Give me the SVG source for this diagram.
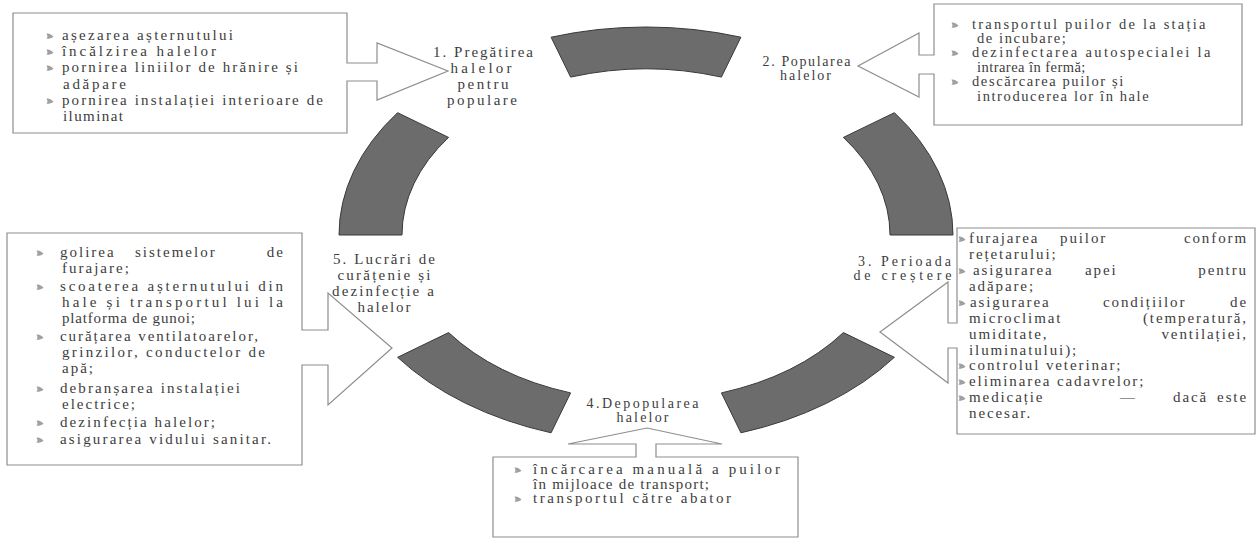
<svg xmlns="http://www.w3.org/2000/svg" xmlns:xlink="http://www.w3.org/1999/xlink" width="1259" height="545" viewBox="0 0 1259 545">
<style>
.box{fill:#fff;stroke:#8e8e8e;stroke-width:1.2}
.seg{fill:#6c6c6c;stroke:#3a3a3a;stroke-width:1}
.t{font-family:"Liberation Serif","DejaVu Serif","Times New Roman",serif;fill:#3d3d3d}
.s15{font-size:15px;letter-spacing:2px}
.s14{font-size:14.5px;letter-spacing:1.6px}
.s3{font-size:15px;letter-spacing:1.9px}
.s13{font-size:14px;letter-spacing:1px}
.m{text-anchor:middle}
.e{text-anchor:end}
.bul{fill:#a0a0a0}
</style>
<defs>
<path id="b" class="bul" d="M-3.5,-2.5 C-0.5,-2.8 2,-1.2 3.5,0.8 C1.2,2.6 -1.2,3 -3.6,2.8 C-2.2,1.4 -2.2,0 -3.5,-2.5 Z"/>
</defs>
<rect width="1259" height="545" fill="#fff"/>

<g id="connectors">
<path class="seg" d="M953,235 A307,208 0 0 0 894.4,112.7 L843.4,137.4 A244,166 0 0 1 890,235 Z"/>
<path class="seg" d="M740.9,37.2 A307,208 0 0 0 551.1,37.2 L570.6,77.1 A244,166 0 0 1 721.4,77.1 Z"/>
<path class="seg" d="M397.6,112.7 A307,208 0 0 0 339,235 L402,235 A244,166 0 0 1 448.6,137.4 Z"/>
<path class="seg" d="M397.6,357.3 A307,208 0 0 0 551.1,432.8 L570.6,392.9 A244,166 0 0 1 448.6,332.6 Z"/>
<path class="seg" d="M740.9,432.8 A307,208 0 0 0 894.4,357.3 L843.4,332.6 A244,166 0 0 1 721.4,392.9 Z"/>
</g>

<g id="step1">
<path class="box" d="M13,13 H347 V63 H377 V43 L448,71 L377,100 V81 H347 V133 H13 Z"/>
<g class="t s15">
<use xlink:href="#b" x="50" y="36"/><text x="62" y="40" textLength="173">așezarea așternutului</text>
<use xlink:href="#b" x="50" y="52"/><text x="62" y="56" textLength="156">încălzirea halelor</text>
<use xlink:href="#b" x="50" y="68"/><text x="62" y="72" textLength="238">pornirea liniilor de hrănire și</text>
<text x="63" y="89" textLength="65">adăpare</text>
<use xlink:href="#b" x="50" y="101"/><text x="62" y="105" textLength="263">pornirea instalației interioare de</text>
<text x="63" y="121" textLength="62">iluminat</text>
</g>
<g class="t s15 m">
<text x="484" y="57" textLength="102">1. Pregătirea</text>
<text x="482" y="73" textLength="63">halelor</text>
<text x="484" y="89" textLength="53">pentru</text>
<text x="483" y="105" textLength="72">populare</text>
</g>
</g>

<g id="step2">
<path class="box" d="M934,4 H1242 V125 H934 V74 H919 V97 L858,66 L919,33 V55 H934 Z"/>
<g class="t s14">
<use xlink:href="#b" x="955" y="25"/><text x="972" y="29" textLength="235">transportul puilor de la stația</text>
<text x="977" y="43">de incubare;</text>
<use xlink:href="#b" x="955" y="53"/><text x="972" y="57" textLength="240">dezinfectarea autospecialei la</text>
<text x="977" y="72" textLength="110">intrarea în fermă;</text>
<use xlink:href="#b" x="955" y="82"/><text x="972" y="86">descărcarea puilor și</text>
<text x="977" y="101">introducerea lor în hale</text>
</g>
<g class="t s13 m">
<text x="807" y="66" textLength="89">2. Popularea</text>
<text x="806" y="80" textLength="52">halelor</text>
</g>
</g>

<g id="step3">
<path class="box" d="M957,228 H1255 V434 H957 V348 H948 V383 L880,332 L948,282 V323 H957 Z"/>
<g class="t s3">
<use xlink:href="#b" x="962" y="239"/><text x="969" y="243">furajarea</text><text x="1060" y="243">puilor</text><text class="e" x="1248" y="243">conform</text>
<text x="969" y="259">rețetarului;</text>
<use xlink:href="#b" x="962" y="271"/><text x="973" y="275">asigurarea</text><text x="1085" y="275">apei</text><text class="e" x="1248" y="275">pentru</text>
<text x="969" y="291">adăpare;</text>
<use xlink:href="#b" x="962" y="303"/><text x="970" y="307">asigurarea</text><text x="1103" y="307">condițiilor</text><text class="e" x="1248" y="307">de</text>
<text x="969" y="323">microclimat</text><text class="e" x="1248" y="323">(temperatură,</text>
<text x="969" y="339">umiditate,</text><text class="e" x="1248" y="339">ventilației,</text>
<text x="969" y="355">iluminatului);</text>
<use xlink:href="#b" x="962" y="366"/><text x="969" y="370">controlul veterinar;</text>
<use xlink:href="#b" x="962" y="382"/><text x="969" y="386">eliminarea cadavrelor;</text>
<use xlink:href="#b" x="962" y="398"/><text x="969" y="402">medicație</text><text x="1120" y="402">—</text><text x="1173" y="402">dacă</text><text class="e" x="1248" y="402">este</text>
<text x="969" y="418">necesar.</text>
</g>
<g class="t s13 m">
<text x="905" y="266" textLength="94">3. Perioada</text>
<text x="903" y="280" textLength="99">de creștere</text>
</g>
</g>

<g id="step4">
<path class="box" d="M493,457 H636 V444 H568 L647,428 L722,444 H656 V457 H798 V537 H493 Z"/>
<g class="t s15">
<use xlink:href="#b" x="518" y="470"/><text x="533" y="474" textLength="249">încărcarea manuală a puilor</text>
<text x="533" y="489" textLength="178">în mijloace de transport;</text>
<use xlink:href="#b" x="518" y="499"/><text x="533" y="503" textLength="200">transportul către abator</text>
</g>
<g class="t s13 m">
<text x="643" y="408" textLength="113">4.Depopularea</text>
<text x="643" y="422" textLength="53">halelor</text>
</g>
</g>

<g id="step5">
<path class="box" d="M7,233 H302 V330 H328 V293 L392,348 L328,405 V365 H302 V465 H7 Z"/>
<g class="t s15">
<use xlink:href="#b" x="40" y="253"/><text x="60" y="257">golirea</text><text x="135" y="257">sistemelor</text><text class="e" x="285" y="257">de</text>
<text x="62" y="273">furajare;</text>
<use xlink:href="#b" x="40" y="287"/><text x="60" y="291" textLength="225">scoaterea așternutului din</text>
<text x="62" y="307" textLength="223">hale și transportul lui la</text>
<text x="62" y="323" textLength="135">platforma de gunoi;</text>
<use xlink:href="#b" x="40" y="337"/><text x="60" y="341" textLength="200">curățarea ventilatoarelor,</text>
<text x="62" y="357" textLength="205">grinzilor, conductelor de</text>
<text x="62" y="373">apă;</text>
<use xlink:href="#b" x="40" y="389"/><text x="60" y="393" textLength="182">debranșarea instalației</text>
<text x="62" y="409">electrice;</text>
<use xlink:href="#b" x="40" y="423"/><text x="60" y="427" textLength="157">dezinfecția halelor;</text>
<use xlink:href="#b" x="40" y="440"/><text x="60" y="444" textLength="213">asigurarea vidului sanitar.</text>
</g>
<g class="t s15 m">
<text x="385" y="264" textLength="104">5. Lucrări de</text>
<text x="385" y="280" textLength="95">curățenie și</text>
<text x="384" y="296" textLength="104">dezinfecție a</text>
<text x="385" y="312" textLength="55">halelor</text>
</g>
</g>
</svg>
